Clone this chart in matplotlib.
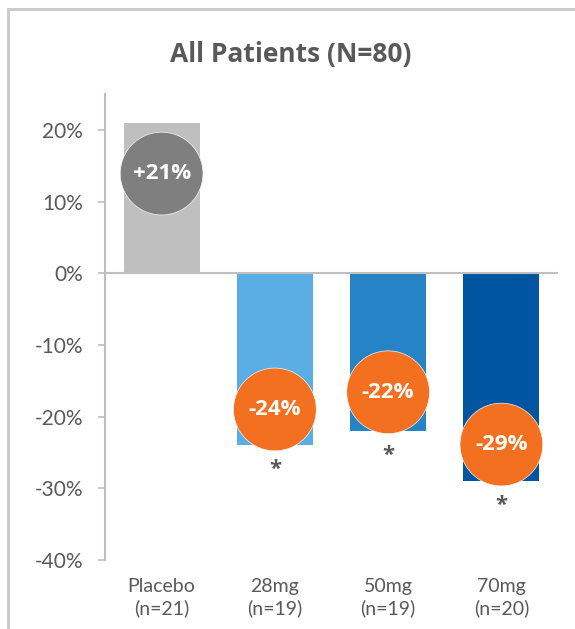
import matplotlib.pyplot as plt
from matplotlib.patches import Rectangle

plt.rcParams["font.family"] = ["Lato", "DejaVu Sans"]
BOLD_FONT = ["Open Sans", "DejaVu Sans"]

# data
groups = ["Placebo\n(n=21)", "28mg\n(n=19)", "50mg\n(n=19)", "70mg\n(n=20)"]
change = [21, -24, -22, -29]
labels = ["+21%", "-24%", "-22%", "-29%"]
bubble_y = [13.9, -19.0, -16.6, -23.9]
star_y = [None, -27.4, -25.4, -32.4]
bar_colors = ["#bfbfbf", "#5baee3", "#2683c6", "#0055a1"]
bubble_colors = ["#7f7f7f", "#f37021", "#f37021", "#f37021"]
yticks = [20, 10, 0, -10, -20, -30, -40]

text_grey = "#595959"
line_grey = "#bfbfbf"

fig = plt.figure(figsize=(5.75, 6.29), dpi=100)
ax = fig.add_axes([105 / 575, 69 / 629, 453 / 575, 466 / 629])

x = list(range(len(groups)))
ax.bar(x, change, width=0.67, color=bar_colors, zorder=2)
ax.axhline(0, color=line_grey, lw=1.5, zorder=3)

ax.scatter(x, bubble_y, s=3550, c=bubble_colors, edgecolors="#f4f4f4",
           linewidths=0.5, zorder=4)
for xi, yi, t in zip(x, bubble_y, labels):
    ax.text(xi, yi, t, ha="center", va="center", color="white",
            fontsize=16, fontweight="bold", family=BOLD_FONT, zorder=5)
for xi, yi in zip(x, star_y):
    if yi is not None:
        ax.text(xi, yi, "*", ha="center", va="center", color=text_grey,
                fontsize=16, fontweight="bold", family=BOLD_FONT, zorder=5)

ax.set_xlim(-0.5, 3.5)
ax.set_ylim(-40, 25)
ax.set_yticks(yticks)
ax.set_yticklabels([f"{v}%" for v in yticks])
ax.set_xticks(x)
ax.set_xticklabels(groups, linespacing=1.3)
ax.tick_params(axis="y", length=5, width=1.2, color=line_grey,
               labelcolor=text_grey, labelsize=15, pad=11)
ax.tick_params(axis="x", length=0, labelcolor=text_grey, labelsize=14, pad=13)

for s in ["top", "right", "bottom"]:
    ax.spines[s].set_visible(False)
ax.spines["left"].set_color(line_grey)
ax.spines["left"].set_linewidth(1.5)

fig.text(291 / 575, 1 - 62 / 629, "All Patients (N=80)", ha="center",
         va="baseline", color=text_grey, fontsize=19, fontweight="bold",
         family=BOLD_FONT)

# outer frame (right and bottom edges run past the crop)
fig.patches.append(Rectangle((8 / 575, -0.05), 1.1, 1 - 9 / 629 + 0.05,
                             transform=fig.transFigure, fill=False,
                             edgecolor="#c8c8c8", lw=2))

fig.savefig("out.png", dpi=100)
